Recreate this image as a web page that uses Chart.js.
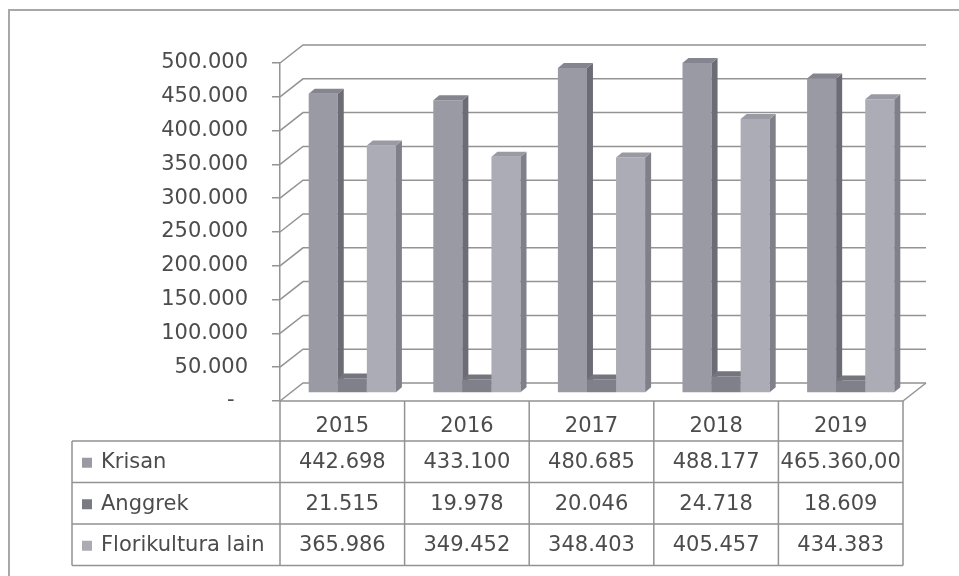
<!DOCTYPE html>
<html>
<head>
<meta charset="utf-8">
<script src="https://cdn.jsdelivr.net/npm/chart.js@4.4.0/dist/chart.umd.min.js"></script>
<style>
  html, body { margin: 0; padding: 0; background: #fff; }
</style>
</head>
<body>
<canvas id="myChart" width="959" height="576"></canvas>
<script>
var years = ['2015', '2016', '2017', '2018', '2019'];
var krisan = [442698, 433100, 480685, 488177, 465360];
var anggrek = [21515, 19978, 20046, 24718, 18609];
var florikultura = [365986, 349452, 348403, 405457, 434383];
var seriesNames = ['Krisan', 'Anggrek', 'Florikultura lain'];
// decimals written in the table cells, the last Krisan cell shows ",00"
var krisanDecimals = [0, 0, 0, 0, 2];
var yTicks = [0, 50000, 100000, 150000, 200000, 250000, 300000, 350000, 400000, 450000, 500000];

var FONT = '"DejaVu Sans", sans-serif';
var TEXT = '#4c4c4c';
var LINE = '#939393';
var DEPTH_X = 23, DEPTH_Y = -18;   // back wall offset
var BAR_X = 10, BAR_Y = -8;        // bars stand halfway into the floor
var SIDE_X = 6, SIDE_Y = -5;       // thickness of each bar
var HEADER_H = 40, ROW_H = 41.5, TABLE_LEFT = 72;

var front = ['#9a9aa5', '#80808b', '#acacb6'];
var side = ['#6c6c77', '#5e5e68', '#80808a'];
var top3d = ['#85858f', '#75757f', '#9a9aa4'];
var legendColors = ['#9a9aa2', '#7a7a82', '#ababb2'];

function fmt(v, dec) {
  var parts = v.toFixed(dec).split('.');
  var s = parts[0].replace(/\B(?=(\d{3})+(?!\d))/g, '.');
  return dec ? s + ',' + parts[1] : s;
}

var ctx = document.getElementById('myChart').getContext('2d');

var frame = {
  id: 'frame',
  beforeDraw: function (chart) {
    var c = chart.ctx;
    c.save();
    c.fillStyle = '#fff';
    c.fillRect(0, 0, chart.width, chart.height);
    c.strokeStyle = '#a8a8a8';
    c.lineWidth = 2;
    c.strokeRect(9, 10, 1000, 700);
    c.restore();
  }
};

// back wall, side wall and the bars with their side and top faces
var bars3d = {
  id: 'bars3d',
  beforeDatasetsDraw: function (chart) {
    var c = chart.ctx, area = chart.chartArea, y = chart.scales.y;
    c.save();
    c.strokeStyle = LINE;
    c.lineWidth = 1.5;
    yTicks.forEach(function (v) {
      var py = y.getPixelForValue(v);
      c.beginPath();
      c.moveTo(area.left, py);
      c.lineTo(area.left + DEPTH_X, py + DEPTH_Y);
      c.lineTo(area.right + DEPTH_X, py + DEPTH_Y);
      c.stroke();
    });
    c.beginPath();
    c.moveTo(area.right, area.bottom);
    c.lineTo(area.right + DEPTH_X, area.bottom + DEPTH_Y);
    c.stroke();
    c.restore();

    c.save();
    c.translate(BAR_X, BAR_Y);
    chart.data.datasets.forEach(function (ds, i) {
      var meta = chart.getDatasetMeta(i);
      meta.controller.draw();
      meta.data.forEach(function (el) {
        var p = el.getProps(['x', 'y', 'base', 'width'], true);
        var l = p.x - p.width / 2, r = p.x + p.width / 2;
        c.fillStyle = side[i];
        c.beginPath();
        c.moveTo(r, p.y);
        c.lineTo(r + SIDE_X, p.y + SIDE_Y);
        c.lineTo(r + SIDE_X, p.base + SIDE_Y);
        c.lineTo(r, p.base);
        c.closePath();
        c.fill();
        c.fillStyle = top3d[i];
        c.beginPath();
        c.moveTo(l, p.y);
        c.lineTo(l + SIDE_X, p.y + SIDE_Y);
        c.lineTo(r + SIDE_X, p.y + SIDE_Y);
        c.lineTo(r, p.y);
        c.closePath();
        c.fill();
      });
    });
    c.restore();
    return false;
  }
};

// data table under the floor
var dataTable = {
  id: 'dataTable',
  afterDraw: function (chart) {
    var c = chart.ctx, area = chart.chartArea, x = chart.scales.x;
    var colW = (area.right - area.left) / years.length;
    var rows = [krisan, anggrek, florikultura];
    var bodyTop = area.bottom + HEADER_H;
    var bottom = bodyTop + ROW_H * rows.length;
    c.save();
    c.strokeStyle = LINE;
    c.lineWidth = 1.5;
    c.beginPath();
    c.moveTo(area.left, area.bottom);
    c.lineTo(area.right, area.bottom);
    for (var k = 0; k <= rows.length; k++) {
      c.moveTo(TABLE_LEFT, bodyTop + k * ROW_H);
      c.lineTo(area.right, bodyTop + k * ROW_H);
    }
    c.moveTo(TABLE_LEFT, bodyTop);
    c.lineTo(TABLE_LEFT, bottom);
    for (var j = 0; j <= years.length; j++) {
      var bx = area.left + j * colW;
      c.moveTo(bx, area.bottom);
      c.lineTo(bx, bottom);
    }
    c.stroke();

    c.font = '21px ' + FONT;
    c.fillStyle = TEXT;
    c.textBaseline = 'middle';
    c.textAlign = 'center';
    years.forEach(function (yr, i) {
      c.fillText(yr, x.getPixelForValue(i), area.bottom + HEADER_H / 2 + 6);
    });
    rows.forEach(function (vals, r) {
      var cy = bodyTop + r * ROW_H + ROW_H / 2 + 1;
      vals.forEach(function (v, i) {
        var dec = r === 0 ? krisanDecimals[i] : 0;
        c.fillText(fmt(v, dec), x.getPixelForValue(i), cy);
      });
      c.fillStyle = legendColors[r];
      c.fillRect(TABLE_LEFT + 10, cy - 5, 10, 10);
      c.fillStyle = TEXT;
      c.textAlign = 'left';
      c.fillText(seriesNames[r], TABLE_LEFT + 29, cy);
      c.textAlign = 'center';
    });
    c.restore();
  }
};

var myChart = new Chart(ctx, {
  type: 'bar',
  data: {
    labels: years,
    datasets: [
      { label: seriesNames[0], data: krisan, backgroundColor: front[0] },
      { label: seriesNames[1], data: anggrek, backgroundColor: front[1] },
      { label: seriesNames[2], data: florikultura, backgroundColor: front[2] }
    ]
  },
  options: {
    responsive: false,
    animation: false,
    layout: { padding: { top: 63, right: 56, bottom: 175, left: 0 } },
    datasets: { bar: { categoryPercentage: 0.7, barPercentage: 1 } },
    scales: {
      x: { display: false, offset: true },
      y: {
        min: 0,
        max: 500000,
        afterFit: function (scale) { scale.width = 280; },
        afterBuildTicks: function (scale) {
          scale.ticks = yTicks.map(function (v) { return { value: v }; });
        },
        border: { display: true, color: LINE, width: 1.5 },
        grid: { drawOnChartArea: false, drawTicks: true, tickLength: 8, color: LINE, lineWidth: 1.5 },
        ticks: {
          padding: 24,
          color: TEXT,
          font: { family: FONT, size: 21 },
          callback: function (v) { return v === 0 ? '-  ' : fmt(v, 0); }
        }
      }
    },
    plugins: {
      legend: { display: false },
      tooltip: { enabled: false }
    }
  },
  plugins: [frame, bars3d, dataTable]
});
</script>
</body>
</html>
